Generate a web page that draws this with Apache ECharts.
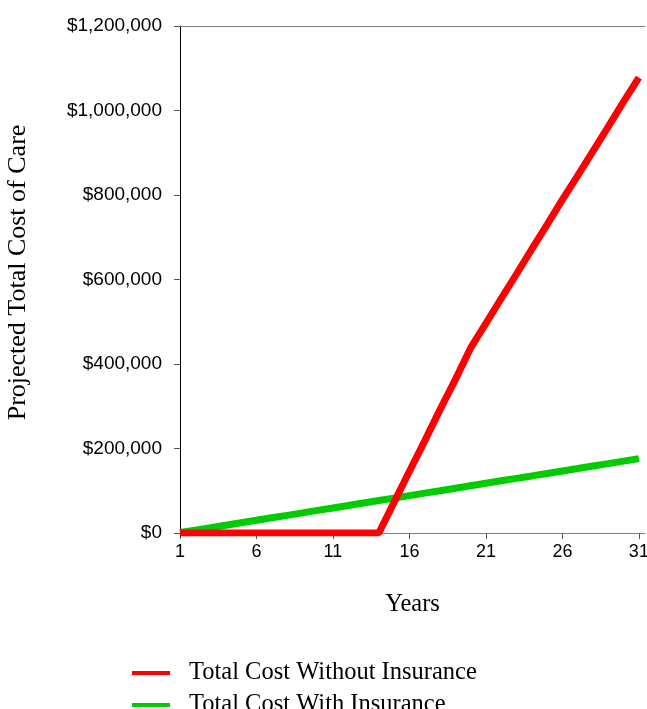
<!DOCTYPE html>
<html>
<head>
<meta charset="utf-8">
<script src="https://cdn.jsdelivr.net/npm/echarts@6/dist/echarts.min.js"></script>
<style>
  html, body { margin: 0; padding: 0; background: #fff; overflow: hidden; }
</style>
</head>
<body>
<div id="myChart" style="width: 647px; height: 709px;"></div>
<script>
// years on the x axis
const years = [1, 2, 3, 4, 5, 6, 7, 8, 9, 10, 11, 12, 13, 14, 15, 16, 17, 18, 19, 20,
  21, 22, 23, 24, 25, 26, 27, 28, 29, 30, 31]
const xTicks = [1, 6, 11, 16, 21, 26, 31]
// projected cost without insurance
const costWithout = [0, 0, 0, 0, 0, 0, 0, 0, 0, 0, 0, 0, 0, 0, 73000, 146000, 218000, 292000, 363000, 438000,
  496000, 555000, 613000, 672000, 730000, 789000, 846000, 904000, 962000, 1021000, 1078000]
// projected cost with insurance
const costWith = [1000, 6800, 12600, 18500, 24300, 30100, 36000, 41800, 47600, 53500, 59300, 65100, 71000, 76800, 82600,
  88500, 94300, 100100, 106000, 111800, 117600, 123500, 129300, 135100, 141000, 146800, 152600, 158500, 164300, 170100, 176000]
const seriesNames = ['Total Cost Without Insurance', 'Total Cost With Insurance']

const sans = '"Liberation Sans", Arial, sans-serif'
const serif = '"Liberation Serif", "Times New Roman", serif'

// one legend per row, so the second row is not pushed into a new column
const legendCommon = {
  orient: 'vertical',
  left: 132,
  padding: 0,
  itemWidth: 38,
  itemHeight: 4,
  icon: 'rect',
  textStyle: {
    fontFamily: serif,
    fontSize: 24.5,
    lineHeight: 26,
    color: '#000',
    padding: [0, 0, 0, 14]
  }
}

const myChart = echarts.init(document.getElementById('myChart'))
myChart.setOption({
  animation: false,
  backgroundColor: '#fff',
  grid: {
    left: 180,
    right: 2,
    top: 26,
    bottom: 176,
    outerBoundsMode: 'none'
  },
  legend: [
    Object.assign({}, legendCommon, { top: 660, data: [seriesNames[0]] }),
    Object.assign({}, legendCommon, { top: 692, data: [seriesNames[1]] })
  ],
  xAxis: [
    {
      type: 'value',
      min: 1,
      max: 31.4,
      name: 'Years',
      nameLocation: 'middle',
      nameGap: 59,
      nameTextStyle: { fontFamily: serif, fontSize: 24.5, color: '#000' },
      splitLine: { show: false },
      axisLine: { lineStyle: { color: '#808080', width: 1 } },
      axisTick: { length: 6, customValues: xTicks, lineStyle: { color: '#555' } },
      axisLabel: {
        customValues: xTicks,
        margin: 10,
        fontFamily: sans,
        fontSize: 18,
        color: '#000'
      }
    },
    {
      // top border line
      type: 'value',
      position: 'top',
      min: 1,
      max: 31.4,
      splitLine: { show: false },
      axisLine: { lineStyle: { color: '#808080', width: 1 } },
      axisTick: { show: false },
      axisLabel: { show: false }
    }
  ],
  yAxis: {
    type: 'value',
    min: 0,
    max: 1200000,
    interval: 200000,
    name: 'Projected Total Cost of Care',
    nameLocation: 'middle',
    nameGap: 149,
    nameTextStyle: { fontFamily: serif, fontSize: 26, color: '#000', padding: [0, 0, 0, 14] },
    splitLine: { show: false },
    axisLine: { show: true, lineStyle: { color: '#000', width: 1 } },
    axisTick: { show: true, length: 6, lineStyle: { color: '#555' } },
    axisLabel: {
      margin: 18,
      fontFamily: sans,
      fontSize: 19,
      color: '#000',
      formatter: v => '$' + v.toLocaleString('en-US')
    }
  },
  series: [
    {
      name: seriesNames[1],
      type: 'line',
      showSymbol: false,
      data: years.map((y, i) => [y, costWith[i]]),
      itemStyle: { color: '#00cc00' },
      lineStyle: { color: '#00cc00', width: 7 }
    },
    {
      name: seriesNames[0],
      type: 'line',
      showSymbol: false,
      data: years.map((y, i) => [y, costWithout[i]]),
      itemStyle: { color: '#ff0000' },
      lineStyle: { color: '#ff0000', width: 7 }
    }
  ]
})
</script>
</body>
</html>
